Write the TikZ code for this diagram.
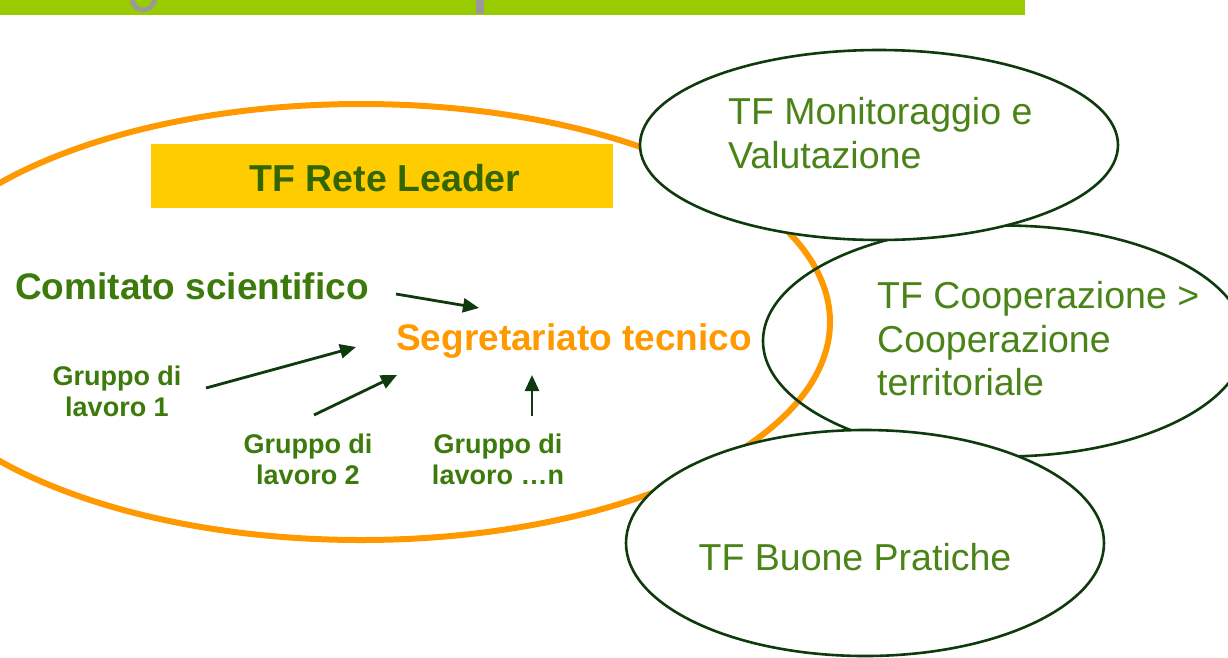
\documentclass[tikz,border=0pt]{standalone}
\usepackage{fontspec}
\setmainfont{Liberation Sans}
\usetikzlibrary{arrows.meta}
\definecolor{barG}{HTML}{99CC00}
\definecolor{boxY}{HTML}{FFCC00}
\definecolor{orng}{HTML}{FF9900}
\definecolor{txtG}{HTML}{3C7A0C}
\definecolor{txtD}{HTML}{336600}
\definecolor{lineD}{HTML}{0E3A0E}
\definecolor{txtL}{HTML}{4A8418}
\tikzset{
  tfell/.style={draw=lineD, line width=2.6pt},
  bigtxt/.style={font=\fontsize{37.5}{43.5}\selectfont, inner sep=0pt, anchor=west, align=left},
  grp/.style={font=\bfseries\fontsize{27}{31}\selectfont, text=txtG, inner sep=0pt, align=center},
  arr/.style={draw=lineD, line width=2.8pt, -{Triangle[length=16pt,width=14pt]}},
}
\begin{document}
\begin{tikzpicture}[x=1pt,y=-1pt]
\useasboundingbox (0,0) rectangle (1228,657);
\fill[white] (0,0) rectangle (1228,657);
% top bar
\fill[barG] (0,0) rectangle (1025,15);
\fill[gray!80] (130,0) .. controls (130,16) and (155,16) .. (157,0) -- (152,0) .. controls (150,10) and (136,10) .. (135,0) -- cycle;
\fill[gray!80] (476,0) rectangle (484,14);
% big orange ellipse
\draw[orng, line width=6pt] (361,322) ellipse [x radius=469, y radius=218];
% Cooperazione ellipse (unfilled)
\draw[tfell] (1004,341) ellipse [x radius=241, y radius=115.5];
% Monitoraggio ellipse
\draw[tfell, fill=white] (879,145) ellipse [x radius=239, y radius=95];
% Buone Pratiche ellipse
\draw[tfell, fill=white] (865,543) ellipse [x radius=239, y radius=113];
% yellow box
\node[fill=boxY, minimum width=462pt, minimum height=64pt, inner sep=0pt, anchor=north west] (rete) at (151,144) {};
\node[font=\bfseries\fontsize{37.5}{43}\selectfont, text=txtD, inner sep=0pt] (retet) at (385,178) {TF Rete Leader};
% TF labels
\node[bigtxt, text=txtL] (monit) at (728,133) {TF Monitoraggio e\\Valutazione};
\node[bigtxt, text=txtL] (coop) at (877,339) {TF Cooperazione >\\Cooperazione\\territoriale};
\node[font=\fontsize{37.5}{43}\selectfont, text=txtL, inner sep=0pt] (buone) at (855,557) {TF Buone Pratiche};
% inner labels
\node[font=\bfseries\fontsize{37}{43}\selectfont, text=txtG, inner sep=0pt, anchor=west] (comit) at (15,286) {Comitato scientifico};
\node[font=\bfseries\fontsize{37}{43}\selectfont, text=orng, inner sep=0pt, anchor=west] (segr) at (396,341) {Segretariato tecnico};
\node[grp] (g1) at (117,391) {Gruppo di\\lavoro 1};
\node[grp] (g2) at (308,459) {Gruppo di\\lavoro 2};
\node[grp] (gn) at (498,459) {Gruppo di\\lavoro \ldots n};
% arrow anchors
\coordinate (cA) at (396,294);
\coordinate (cB) at (479,308);
\coordinate (g1A) at (206,388);
\coordinate (g1B) at (356,347);
\coordinate (g2A) at (314,415);
\coordinate (g2B) at (397,375);
\coordinate (gnA) at (532,416);
\coordinate (gnB) at (532,375);
\draw[arr] (cA) -- (cB);
\draw[arr] (g1A) -- (g1B);
\draw[arr] (g2A) -- (g2B);
\draw[arr] (gnA) -- (gnB);
\end{tikzpicture}
\end{document}
